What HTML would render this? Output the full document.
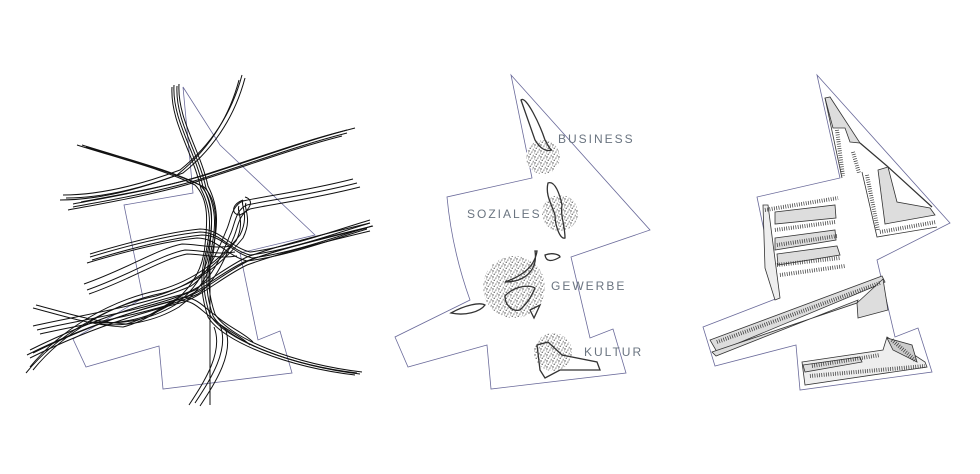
<!DOCTYPE html>
<html><head><meta charset="utf-8"><style>
html,body{margin:0;padding:0;background:#fff;}
svg{display:block;}
text{font-family:"Liberation Sans",sans-serif;font-size:12px;letter-spacing:2px;fill:#6a7480;}
</style></head><body>
<svg width="980" height="474" viewBox="0 0 980 474" xmlns="http://www.w3.org/2000/svg">
<defs>
<pattern id="st" width="6" height="6" patternUnits="userSpaceOnUse">
<rect width="6" height="6" fill="#fff"/>
<circle cx="1" cy="1" r="0.7" fill="#444"/><circle cx="4" cy="2" r="0.6" fill="#666"/>
<circle cx="2.2" cy="4.3" r="0.7" fill="#555"/><circle cx="5.2" cy="5.2" r="0.5" fill="#333"/>
<circle cx="5" cy="0.3" r="0.5" fill="#777"/><circle cx="0.3" cy="3" r="0.5" fill="#666"/>
<circle cx="3.2" cy="3" r="0.4" fill="#555"/>
</pattern>
<g id="c1"><path d="M174,85 C172,120 195,150 203,187 C215,210 212,230 208,250 C200,280 205,300 210,315 C225,340 290,365 357,373"/></g>
<g id="c2"><path d="M242,75 C230,120 205,150 180,170 C140,185 100,195 63,195"/></g>
<g id="c3"><path d="M347,133 C300,145 260,160 213,175 C170,190 110,200 73,207"/></g>
<g id="c4"><path d="M82,145 C130,160 170,170 200,185 C215,200 212,225 210,245 C208,270 195,290 175,305 C150,320 120,325 95,322"/></g>
<g id="c5"><path d="M90,257 C130,245 170,235 200,232 C220,232 230,250 250,255 C290,250 330,235 370,223"/></g>
<g id="c6"><path d="M370,223 C320,235 280,245 247,257 C220,270 200,290 180,295 C120,310 70,330 30,350"/></g>
<g id="c7"><path d="M357,183 C310,195 270,200 247,205 C235,210 235,225 230,235 C220,260 210,280 195,290 C150,310 80,320 37,330"/></g>
<g id="c8"><path d="M87,290 C130,275 160,255 185,250 C200,250 215,255 235,252"/></g>
<g id="c9"><path d="M33,308 C60,315 90,325 123,327 C150,320 165,305 177,300 C195,300 200,310 212,318 C225,330 240,335 250,345"/></g>
<g id="c10"><path d="M220,325 C230,350 210,380 195,403"/></g>
<g id="c11"><path d="M30,367 C60,330 110,300 160,290 C195,280 220,260 240,235 C250,215 240,205 243,200"/></g>
</defs>
<!-- Panel 1 -->
<polygon points="183,87 220,145 315,235 240,253 258,340 280,331 292,373 163,389 159,346 86,367 73,339 143,298 124,205 193,193" fill="none" stroke="#6a6a9a" stroke-width="0.8"/>
<g fill="none" stroke="#111" stroke-width="1">
<use href="#c1"/><use href="#c1" transform="translate(3,1)"/><use href="#c1" transform="translate(-2,2)"/><use href="#c1" transform="translate(5,-1)"/>
<use href="#c2"/><use href="#c2" transform="translate(3,3)"/><use href="#c2" transform="translate(-3,5)"/>
<use href="#c3"/><use href="#c3" transform="translate(-5,3)"/><use href="#c3" transform="translate(8,-5)"/><use href="#c3" transform="translate(0,-3)"/>
<use href="#c4"/><use href="#c4" transform="translate(4,2)"/><use href="#c4" transform="translate(-5,0)"/>
<use href="#c5"/><use href="#c5" transform="translate(2,3)"/><use href="#c5" transform="translate(0,-3)"/><use href="#c5" transform="translate(-3,6)"/>
<use href="#c6"/><use href="#c6" transform="translate(3,3)"/><use href="#c6" transform="translate(-3,5)"/><use href="#c6" transform="translate(0,8)"/>
<use href="#c7"/><use href="#c7" transform="translate(3,4)"/><use href="#c7" transform="translate(-4,-4)"/>
<use href="#c8"/><use href="#c8" transform="translate(2,4)"/><use href="#c8" transform="translate(-3,-6)"/>
<use href="#c9"/><use href="#c9" transform="translate(3,-3)"/>
<use href="#c10"/><use href="#c10" transform="translate(5,3)"/><use href="#c10" transform="translate(-6,2)"/>
<use href="#c11"/><use href="#c11" transform="translate(3,3)"/><use href="#c11" transform="translate(-4,6)"/>
<path d="M210,255 L210,405"/>
<path d="M243,200 C230,205 232,215 240,215 C250,210 255,200 245,197"/>
</g>

<!-- Panel 2 -->
<path d="M511,75 L650,230 L571,257 L590,338 L613,329 L626,373 L491,389 L487,345 L408,367 L395,337 L470,300 Q452,250 447,197 L532,178 Z" fill="none" stroke="#6a6a9a" stroke-width="0.8"/>
<circle cx="543" cy="157" r="17" fill="url(#st)"/>
<circle cx="560" cy="213" r="18" fill="url(#st)"/>
<circle cx="514" cy="287" r="31" fill="url(#st)"/>
<circle cx="553" cy="352" r="19" fill="url(#st)"/>
<g fill="none" stroke="#333" stroke-width="1.3">
<path d="M521,100 C526,95 540,125 545,140 C548,145 550,150 552,150 C545,152 540,148 535,140 Z"/>
<path d="M548,183 C555,180 560,195 562,205 C560,215 565,225 565,238 C560,240 555,225 555,215 C552,205 545,195 548,183 Z"/>
<path d="M537,251 C535,265 525,275 505,282 C525,282 538,270 535,251 Z"/>
<path d="M545,255 C553,252 560,255 560,257 C552,262 546,262 545,255 Z"/>
<path d="M505,296 C515,285 530,285 535,288 C530,300 525,305 520,310 C512,312 505,305 505,296 Z"/>
<path d="M451,313 C465,305 480,302 485,305 C480,312 465,316 451,313 Z"/>
<path d="M530,310 L540,305 L534,318 Z"/>
<path d="M537,345 L548,342 L562,355 L597,362 L600,370 L560,370 L545,378 L540,370 Z"/>
</g>
<text x="558" y="143">BUSINESS</text>
<text x="467" y="218">SOZIALES</text>
<text x="551" y="290">GEWERBE</text>
<text x="584" y="356">KULTUR</text>

<!-- Panel 3 -->
<path d="M817,75 L950,223 L877,260 L895,337 L918,328 L932,372 L800,390 L796,345 L715,366 L703,327 L778,298 L757,197 L840,178 Z" fill="none" stroke="#6a6a9a" stroke-width="0.8"/>
<g stroke="#333" stroke-width="0.8">
<polygon points="825,98 830,97 860,143 850,142 845,128 833,128" fill="#ddd"/>
<polyline points="825,98 842,178" fill="none"/>
<polyline points="860,143 887,166 932,207" fill="none" stroke-width="1.2"/>
<polyline points="862,172 877,237 937,227" fill="none"/>
<polygon points="878,170 888,167 897,202 930,208 935,215 885,224" fill="#ddd"/>
<polygon points="763,205 765,268 775,300 780,298 768,205" fill="#eee"/>
<polygon points="775,212 835,205 836,218 775,224" fill="#ddd"/>
<polygon points="775,238 835,230 836,240 775,250" fill="#ddd"/>
<polygon points="777,254 837,246 840,255 778,265" fill="#ddd"/>
<polygon points="710,340 882,276 885,282 717,352" fill="#ddd"/>
<polygon points="712,352 857,303 858,300 716,356" fill="#ddd"/>
<polygon points="857,303 883,279 888,310 858,318" fill="#ddd"/>
<polygon points="802,362 883,350 887,337 925,362 927,367 805,385" fill="#eee"/>
<polygon points="803,365 860,357 862,362 805,372" fill="#ddd"/>
<polygon points="887,338 912,345 917,362 893,350" fill="#ccc"/>
</g>
<g fill="none" stroke="#333" stroke-width="4" stroke-dasharray="0.7 1.6">
<line x1="837" y1="130" x2="843" y2="176"/>
<line x1="853" y1="152" x2="859" y2="173"/>
<line x1="867" y1="175" x2="878" y2="230"/>
<line x1="880" y1="232" x2="936" y2="222"/>
<line x1="765" y1="210" x2="838" y2="198"/>
<line x1="775" y1="230" x2="835" y2="222"/>
<line x1="777" y1="245" x2="837" y2="236"/>
<line x1="777" y1="265" x2="840" y2="258"/>
<line x1="780" y1="275" x2="845" y2="266"/>
<line x1="717" y1="342" x2="880" y2="283"/>
<line x1="810" y1="376" x2="925" y2="366"/>
<line x1="812" y1="366" x2="880" y2="355"/>
<line x1="892" y1="340" x2="915" y2="360"/>
</g>
</svg>
</body></html>
